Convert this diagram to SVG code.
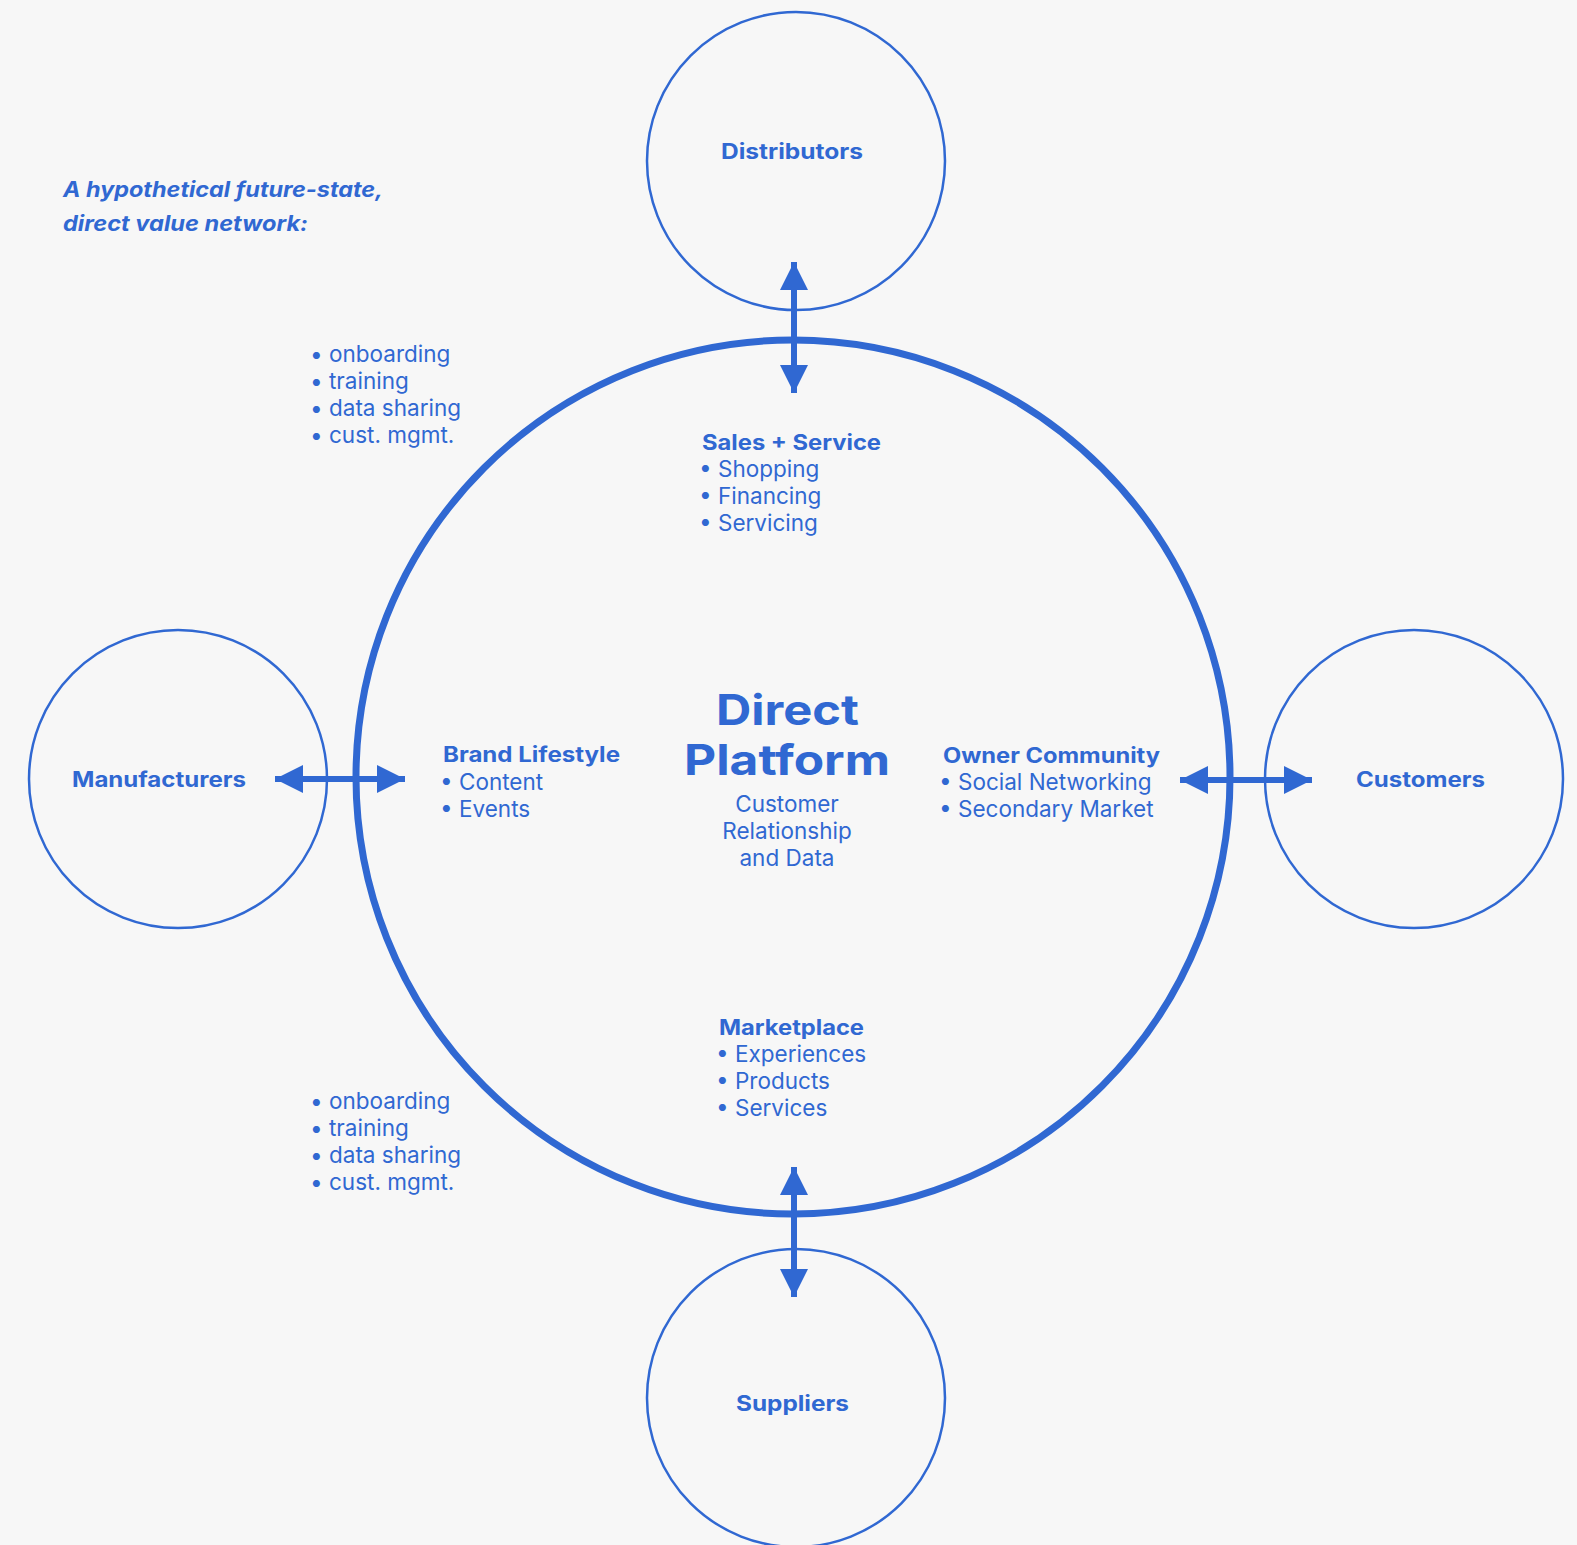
<svg xmlns="http://www.w3.org/2000/svg" width="1577" height="1545" viewBox="0 0 1577 1545">
<defs>
<marker id="ah" markerUnits="userSpaceOnUse" markerWidth="28" markerHeight="28" refX="28" refY="14" orient="auto-start-reverse" viewBox="0 0 28 28"><path d="M0,0 L28,14 L0,28 z" fill="#3068D2"/></marker>
<style>
.bg{fill:#F7F7F7}
.sm{fill:none;stroke:#3068D2;stroke-width:2.5}
.big{fill:none;stroke:#3068D2;stroke-width:7}
.con{stroke:#3068D2;stroke-width:6;fill:none}
text{font-family:Inter,"Noto Sans","Liberation Sans",sans-serif;fill:#3068D2}
.b{font-weight:700}
.nl{font-size:21px;font-weight:700}
.h{font-size:21px;font-weight:700}
.it{font-size:22.5px;font-weight:400}
.ti{font-size:21px;font-weight:700;font-style:italic}
</style>
</defs>
<rect class="bg" x="0" y="0" width="1577" height="1545"/>
<text class="ti" x="63" y="197" textLength="320" lengthAdjust="spacingAndGlyphs">A hypothetical future-state,</text>
<text class="ti" x="63" y="231" textLength="245" lengthAdjust="spacingAndGlyphs">direct value network:</text>
<g id="platform">
<circle class="big" cx="793" cy="777" r="437"/>
<text class="b" x="716" y="725" font-size="42" textLength="143" lengthAdjust="spacingAndGlyphs">Direct</text>
<text class="b" x="684" y="775" font-size="42" textLength="206" lengthAdjust="spacingAndGlyphs">Platform</text>
<text class="it" x="787" y="812" text-anchor="middle">Customer</text>
<text class="it" x="787" y="839" text-anchor="middle">Relationship</text>
<text class="it" x="787" y="866" text-anchor="middle">and Data</text>
</g>
<g id="sales">
<text class="h" x="702" y="450" textLength="179" lengthAdjust="spacingAndGlyphs">Sales + Service</text>
<text class="it" x="699" y="477">• Shopping</text>
<text class="it" x="699" y="504">• Financing</text>
<text class="it" x="699" y="531">• Servicing</text>
</g>
<g id="brand">
<text class="h" x="443" y="762" textLength="177" lengthAdjust="spacingAndGlyphs">Brand Lifestyle</text>
<text class="it" x="440" y="790">• Content</text>
<text class="it" x="440" y="817">• Events</text>
</g>
<g id="owner">
<text class="h" x="943" y="763" textLength="217" lengthAdjust="spacingAndGlyphs">Owner Community</text>
<text class="it" x="939" y="790">• Social Networking</text>
<text class="it" x="939" y="817">• Secondary Market</text>
</g>
<g id="marketplace">
<text class="h" x="719" y="1035" textLength="145" lengthAdjust="spacingAndGlyphs">Marketplace</text>
<text class="it" x="716" y="1062">• Experiences</text>
<text class="it" x="716" y="1089">• Products</text>
<text class="it" x="716" y="1116">• Services</text>
</g>
<g id="distributors">
<circle class="sm" cx="796" cy="161" r="149"/>
<text class="nl" x="721" y="159" textLength="142" lengthAdjust="spacingAndGlyphs">Distributors</text>
</g>
<g id="manufacturers">
<circle class="sm" cx="178" cy="779" r="149"/>
<text class="h" x="72" y="787" textLength="174" lengthAdjust="spacingAndGlyphs">Manufacturers</text>
</g>
<g id="customers">
<circle class="sm" cx="1414" cy="779" r="149"/>
<text class="h" x="1356" y="787" textLength="129" lengthAdjust="spacingAndGlyphs">Customers</text>
</g>
<g id="suppliers">
<circle class="sm" cx="796" cy="1398" r="149"/>
<text class="nl" x="736" y="1411" textLength="113" lengthAdjust="spacingAndGlyphs">Suppliers</text>
</g>
<g id="notes-top">
<text class="it" x="310" y="362">• onboarding</text>
<text class="it" x="310" y="389">• training</text>
<text class="it" x="310" y="416">• data sharing</text>
<text class="it" x="310" y="443">• cust. mgmt.</text>
</g>
<g id="notes-bottom">
<text class="it" x="310" y="1109">• onboarding</text>
<text class="it" x="310" y="1136">• training</text>
<text class="it" x="310" y="1163">• data sharing</text>
<text class="it" x="310" y="1190">• cust. mgmt.</text>
</g>
<g id="connectors">
<path class="con" d="M794,262 L794,393" marker-start="url(#ah)" marker-end="url(#ah)"/>
<path class="con" d="M275,779 L405,779" marker-start="url(#ah)" marker-end="url(#ah)"/>
<path class="con" d="M1180,780 L1312,780" marker-start="url(#ah)" marker-end="url(#ah)"/>
<path class="con" d="M794,1167 L794,1297" marker-start="url(#ah)" marker-end="url(#ah)"/>
</g>
</svg>
